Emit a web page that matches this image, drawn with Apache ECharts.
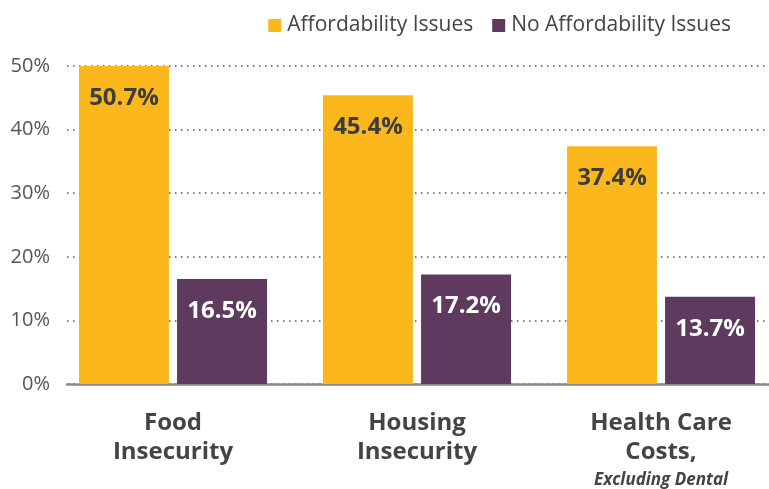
<!DOCTYPE html>
<html>
<head>
<meta charset="utf-8">
<script src="https://cdn.jsdelivr.net/npm/echarts@6/dist/echarts.min.js"></script>
<style>
  html, body { margin: 0; padding: 0; background: #fff; }
  #chart { width: 769px; height: 489px; }
</style>
</head>
<body>
<div id="chart"></div>
<script>
// Share of adults reporting each hardship, by affordability status
const categories = ['Food\nInsecurity', 'Housing\nInsecurity', 'Health Care\nCosts,\nExcluding Dental'];
const seriesNames = ['Affordability Issues', 'No Affordability Issues'];
const affordabilityIssues = [50.7, 45.4, 37.4];
const noAffordabilityIssues = [16.5, 17.2, 13.7];
const yTicks = [0, 10, 20, 30, 40, 50];

const FONT = '"Open Sans", Lato, sans-serif';
const YELLOW = '#FBB71C';
const PURPLE = '#5E3A5E';
const TEXT = '#444444';

// Category label: first lines bold, an optional trailing qualifier in italics
function categoryLabel(value) {
  const lines = value.split('\n');
  if (lines.length > 2) {
    const main = lines.slice(0, 2).map(l => '{b|' + l + '}').join('\n');
    return main + '\n{i|' + lines.slice(2).join(' ') + '}';
  }
  return lines.map(l => '{b|' + l + '}').join('\n');
}

const chart = echarts.init(document.getElementById('chart'), null, { renderer: 'canvas' });

const yCommon = {
  type: 'value',
  min: yTicks[0],
  max: yTicks[yTicks.length - 1],
  interval: yTicks[1] - yTicks[0]
};

chart.setOption({
  animation: false,
  textStyle: { fontFamily: FONT },
  legend: {
    top: 10,
    right: 33,
    itemWidth: 13,
    itemHeight: 13,
    itemGap: 19,
    icon: 'rect',
    textStyle: { fontFamily: FONT, fontSize: 21, color: TEXT, fontWeight: 500, padding: [0, 0, 0, 1] },
    data: seriesNames
  },
  grid: [
    // frame: gridlines, value labels and baseline
    { left: 67, right: 0, top: 66, bottom: 105 },
    // bars and category labels: category ticks sit at the group centres
    { left: 173, width: 488, top: 66, bottom: 105 }
  ],
  xAxis: [
    {
      gridIndex: 0,
      type: 'category',
      data: categories,
      axisLine: { show: true, lineStyle: { color: '#8a8a8a', width: 2.5 } },
      axisTick: { show: false },
      axisLabel: { show: false }
    },
    {
      gridIndex: 1,
      type: 'category',
      boundaryGap: false,
      data: categories,
      axisLine: { show: false },
      axisTick: { show: false },
      axisLabel: {
        margin: 25,
        formatter: categoryLabel,
        rich: {
          b: { fontFamily: FONT, fontSize: 24, fontWeight: 'bold', color: TEXT, lineHeight: 29 },
          i: { fontFamily: FONT, fontSize: 17, fontWeight: 'bold', fontStyle: 'italic', color: TEXT, lineHeight: 27 }
        }
      }
    }
  ],
  yAxis: [
    Object.assign({}, yCommon, {
      gridIndex: 0,
      axisLine: { show: false },
      axisTick: { show: false },
      axisLabel: {
        margin: 17,
        formatter: '{value}%',
        fontFamily: FONT,
        fontSize: 20,
        color: '#555555'
      },
      splitLine: { show: true, lineStyle: { color: '#555555', width: 1.5, type: [1.5, 4.5] } }
    }),
    Object.assign({}, yCommon, {
      gridIndex: 1,
      show: false,
      splitLine: { show: false }
    })
  ],
  series: [
    {
      name: seriesNames[0],
      type: 'bar',
      xAxisIndex: 1,
      yAxisIndex: 1,
      data: affordabilityIssues,
      barWidth: 90,
      barGap: '9%',
      itemStyle: { color: YELLOW },
      label: {
        show: true,
        position: 'insideTop',
        distance: 20,
        formatter: p => p.value.toFixed(1) + '%',
        fontFamily: FONT,
        fontSize: 24,
        fontWeight: 'bold',
        color: '#3d3d3d'
      }
    },
    {
      name: seriesNames[1],
      type: 'bar',
      xAxisIndex: 1,
      yAxisIndex: 1,
      data: noAffordabilityIssues,
      barWidth: 90,
      itemStyle: { color: PURPLE },
      label: {
        show: true,
        position: 'insideTop',
        distance: 20,
        formatter: p => p.value.toFixed(1) + '%',
        fontFamily: FONT,
        fontSize: 24,
        fontWeight: 'bold',
        color: '#ffffff'
      }
    }
  ]
});
</script>
</body>
</html>
